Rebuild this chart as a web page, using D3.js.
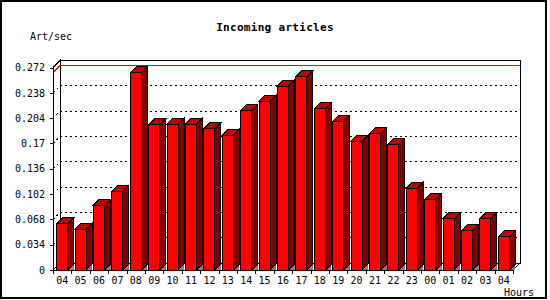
<!DOCTYPE html>
<html>
<head>
<meta charset="utf-8">
<script src="https://cdn.jsdelivr.net/npm/d3@7"></script>
<style>
  body { margin: 0; background: #fff; }
  svg { shape-rendering: crispEdges; }
  text { font-family: "DejaVu Sans Mono", monospace; font-size: 10px; fill: #000; }
</style>
</head>
<body>
<div id="chart"></div>
<script>
var hours = ["04","05","06","07","08","09","10","11","12","13","14","15","16","17","18","19","20","21","22","23","00","01","02","03","04"];
var artSec = [0.062, 0.055, 0.087, 0.106, 0.265, 0.195, 0.196, 0.196, 0.190, 0.181, 0.2145, 0.227, 0.247, 0.260, 0.217, 0.200, 0.173, 0.183, 0.169, 0.110, 0.095, 0.069, 0.053, 0.069, 0.045];
var yTicks = [0, 0.034, 0.068, 0.102, 0.136, 0.17, 0.204, 0.238, 0.272];
var yTickLabels = ["0", "0.034", "0.068", "0.102", "0.136", "0.17", "0.204", "0.238", "0.272"];

var w = 550,
    h = 300;
var plot = { left: 53, right: 513, top: 67.5, bottom: 270 };
var depth = 7;     // wall depth
var barDepth = 6;  // bar depth

var svg = d3.select("#chart").append("svg")
  .attr("width", w)
  .attr("height", h);

// outer frame
svg.append("rect")
  .attr("x", 1).attr("y", 1)
  .attr("width", 544.5).attr("height", 297)
  .attr("fill", "#fff")
  .attr("stroke", "#000")
  .attr("stroke-width", 2);

var xScale = d3.scaleBand()
  .domain(d3.range(hours.length))
  .range([plot.left, plot.right])
  .padding(0);
var yScale = d3.scaleLinear()
  .domain([0, 0.272])
  .range([plot.bottom, plot.top]);

var bw = xScale.bandwidth();

// back wall + left wall + floor
var g = svg.append("g");
g.append("rect")
  .attr("x", plot.left + depth)
  .attr("y", yScale(0.272) - depth)
  .attr("width", plot.right - plot.left)
  .attr("height", yScale(0) - yScale(0.272))
  .attr("fill", "#fff")
  .attr("stroke", "#000");
g.append("path")
  .attr("d", "M" + plot.left + "," + yScale(0.272) +
             "L" + (plot.left + depth) + "," + (yScale(0.272) - depth) +
             "L" + (plot.left + depth) + "," + (yScale(0) - depth) +
             "L" + plot.left + "," + yScale(0) + "Z")
  .attr("fill", "#fff")
  .attr("stroke", "#000");
g.append("path")
  .attr("d", "M" + plot.left + "," + yScale(0) +
             "L" + (plot.left + depth) + "," + (yScale(0) - depth) +
             "L" + (plot.right + depth) + "," + (yScale(0) - depth) +
             "L" + plot.right + "," + yScale(0) + "Z")
  .attr("fill", "#fff")
  .attr("stroke", "#000");

// dotted grid lines on wall and back
function wallLine(v) {
  var y = yScale(v);
  return "M" + plot.left + "," + y +
         "L" + (plot.left + depth) + "," + (y - depth) +
         "L" + (plot.right + depth) + "," + (y - depth);
}
g.selectAll(".grid")
  .data(yTicks.slice(1, yTicks.length - 1))
  .enter()
  .append("path")
  .attr("class", "grid")
  .attr("d", function(d) { return wallLine(d); })
  .attr("fill", "none")
  .attr("stroke", "#000")
  .attr("stroke-dasharray", "2,3");

// max line
g.append("path")
  .attr("d", wallLine(d3.max(artSec)))
  .attr("fill", "none")
  .attr("stroke", "#ff0000");

// bars
var bars = svg.selectAll(".bar")
  .data(artSec)
  .enter()
  .append("g")
  .attr("class", "bar");

function fx(i) { return xScale(i) + bw * 0.2; }
var fw = bw * 0.6;

bars.append("path")
  .attr("d", function(d, i) {
    var x = fx(i) + fw, y0 = yScale(0);
    return "M" + x + "," + y0 + "L" + (x + barDepth) + "," + (y0 - barDepth) + "L" + (x + barDepth) + "," + y0 + "Z";
  })
  .attr("fill", "#808080");
bars.append("path")
  .attr("d", function(d, i) {
    var x = fx(i) + fw, y = yScale(d), y0 = yScale(0);
    return "M" + x + "," + y + "L" + (x + barDepth) + "," + (y - barDepth) +
           "L" + (x + barDepth) + "," + (y0 - barDepth) + "L" + x + "," + y0 + "Z";
  })
  .attr("fill", "#800000")
  .attr("stroke", "#000");
bars.append("path")
  .attr("d", function(d, i) {
    var x = fx(i), y = yScale(d);
    return "M" + x + "," + y + "L" + (x + barDepth) + "," + (y - barDepth) +
           "L" + (x + fw + barDepth) + "," + (y - barDepth) + "L" + (x + fw) + "," + y + "Z";
  })
  .attr("fill", "#c00000")
  .attr("stroke", "#000");
bars.append("rect")
  .attr("x", function(d, i) { return fx(i); })
  .attr("y", function(d) { return yScale(d); })
  .attr("width", fw)
  .attr("height", function(d) { return yScale(0) - yScale(d); })
  .attr("fill", "#ff0000")
  .attr("stroke", "#000");

// axes
var yAxis = d3.axisLeft(yScale)
  .tickValues(yTicks)
  .tickFormat(function(d, i) { return yTickLabels[i]; })
  .tickSize(3)
  .tickPadding(5);
svg.append("g")
  .attr("class", "y-axis")
  .attr("transform", "translate(" + plot.left + ",0)")
  .call(yAxis)
  .call(function(a) { a.select(".domain").attr("d", "M0," + yScale(0.272) + "V" + yScale(0)); });

var xAxis = d3.axisBottom(xScale)
  .tickFormat(function(d) { return hours[d]; })
  .tickSize(0)
  .tickPadding(7);
svg.append("g")
  .attr("class", "x-axis")
  .attr("transform", "translate(0," + plot.bottom + ")")
  .call(xAxis);

// tick marks at band edges
var edgeScale = d3.scaleLinear().domain([0, hours.length]).range([plot.left, plot.right]);
svg.append("g")
  .attr("transform", "translate(0," + plot.bottom + ")")
  .call(d3.axisBottom(edgeScale).tickValues(d3.range(hours.length + 1)).tickFormat("").tickSize(4))
  .call(function(a) { a.select(".domain").remove(); });

svg.selectAll(".tick text").style("font-family", "'DejaVu Sans Mono', monospace").style("font-size", "10px");
svg.selectAll(".domain, .tick line").attr("stroke", "#000");

// labels
svg.append("text")
  .attr("x", 275)
  .attr("y", 30.5)
  .attr("text-anchor", "middle")
  .style("font-weight", "bold")
  .style("font-size", "11px")
  .style("letter-spacing", "0.3px")
  .text("Incoming articles");
svg.append("text")
  .attr("x", 30)
  .attr("y", 40)
  .text("Art/sec");
svg.append("text")
  .attr("x", 504)
  .attr("y", 295.5)
  .text("Hours");
</script>
</body>
</html>
